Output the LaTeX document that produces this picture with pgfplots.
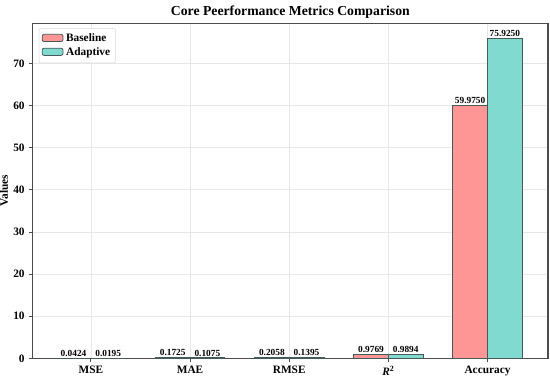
\documentclass[border=0pt]{standalone}
\usepackage{pgfplots}
\pgfplotsset{compat=1.18}
\usepackage{fontspec}
\setmainfont{Liberation Serif}
\definecolor{base}{RGB}{255,150,150}
\definecolor{adap}{RGB}{128,218,208}
\definecolor{edge}{RGB}{70,90,90}
\begin{document}
\begin{tikzpicture}
\path[use as bounding box] (-24.5pt,-17pt) rectangle (388pt,268.75pt);
\begin{axis}[
  scale only axis,
  width=386.5pt, height=251.25pt,
  at={(0,0)}, anchor=south west,
  xmin=-0.587, xmax=4.61,
  ymin=0, ymax=79.5,
  xtick={0,1,2,3,4},
  xticklabels={MSE,MAE,RMSE,\textit{R}\textsuperscript{2},Accuracy},
  ytick={0,10,20,30,40,50,60,70},
  tick label style={font=\fontsize{8.5}{9}\selectfont\bfseries},
  /pgf/number format/assume math mode=true,
  ylabel={\textbf{Values}},
  ylabel style={font=\fontsize{8.5}{9}\selectfont\bfseries, yshift=-3pt},
  title={\textbf{Core Peerformance Metrics Comparison}},
  title style={font=\fontsize{10.3}{12}\selectfont, at={(0.5,1)}, anchor=base, yshift=-0.5pt},
  grid=major,
  major grid style={draw=gray!18, line width=0.5pt},
  axis line style={draw=black!70, line width=0.9pt},
  tick style={draw=black!70, line width=0.6pt},
  tick align=outside,
  major tick length=2.5pt,
  xtick pos=bottom, ytick pos=left,
  ybar, bar width=0.35,
  legend style={at={(0.012,0.985)}, anchor=north west, font=\fontsize{8.5}{9}\selectfont\bfseries, draw=black!15, rounded corners=1.5pt, row sep=-1pt, inner sep=2pt},
  legend cell align=left,
  legend image code/.code={\draw[#1, draw=edge] (0cm,-0.07cm) rectangle (0.55cm,0.12cm);},
  nodes near coords={\pgfplotspointmeta},
  nodes near coords style={font=\fontsize{7}{7}\selectfont\bfseries, inner sep=1pt},
  point meta=explicit symbolic,
]
\addplot[fill=base, draw=edge, line width=0.6pt, bar shift=-0.175] coordinates {(0,0.0424)[0.0424] (1,0.1725)[0.1725] (2,0.2058)[0.2058] (3,0.9769)[0.9769] (4,59.975)[59.9750]};
\addplot[fill=adap, draw=edge, line width=0.6pt, bar shift=0.175] coordinates {(0,0.0195)[0.0195] (1,0.1075)[0.1075] (2,0.1395)[0.1395] (3,0.9894)[0.9894] (4,75.925)[75.9250]};
\legend{Baseline,Adaptive}
\end{axis}
\end{tikzpicture}
\end{document}
